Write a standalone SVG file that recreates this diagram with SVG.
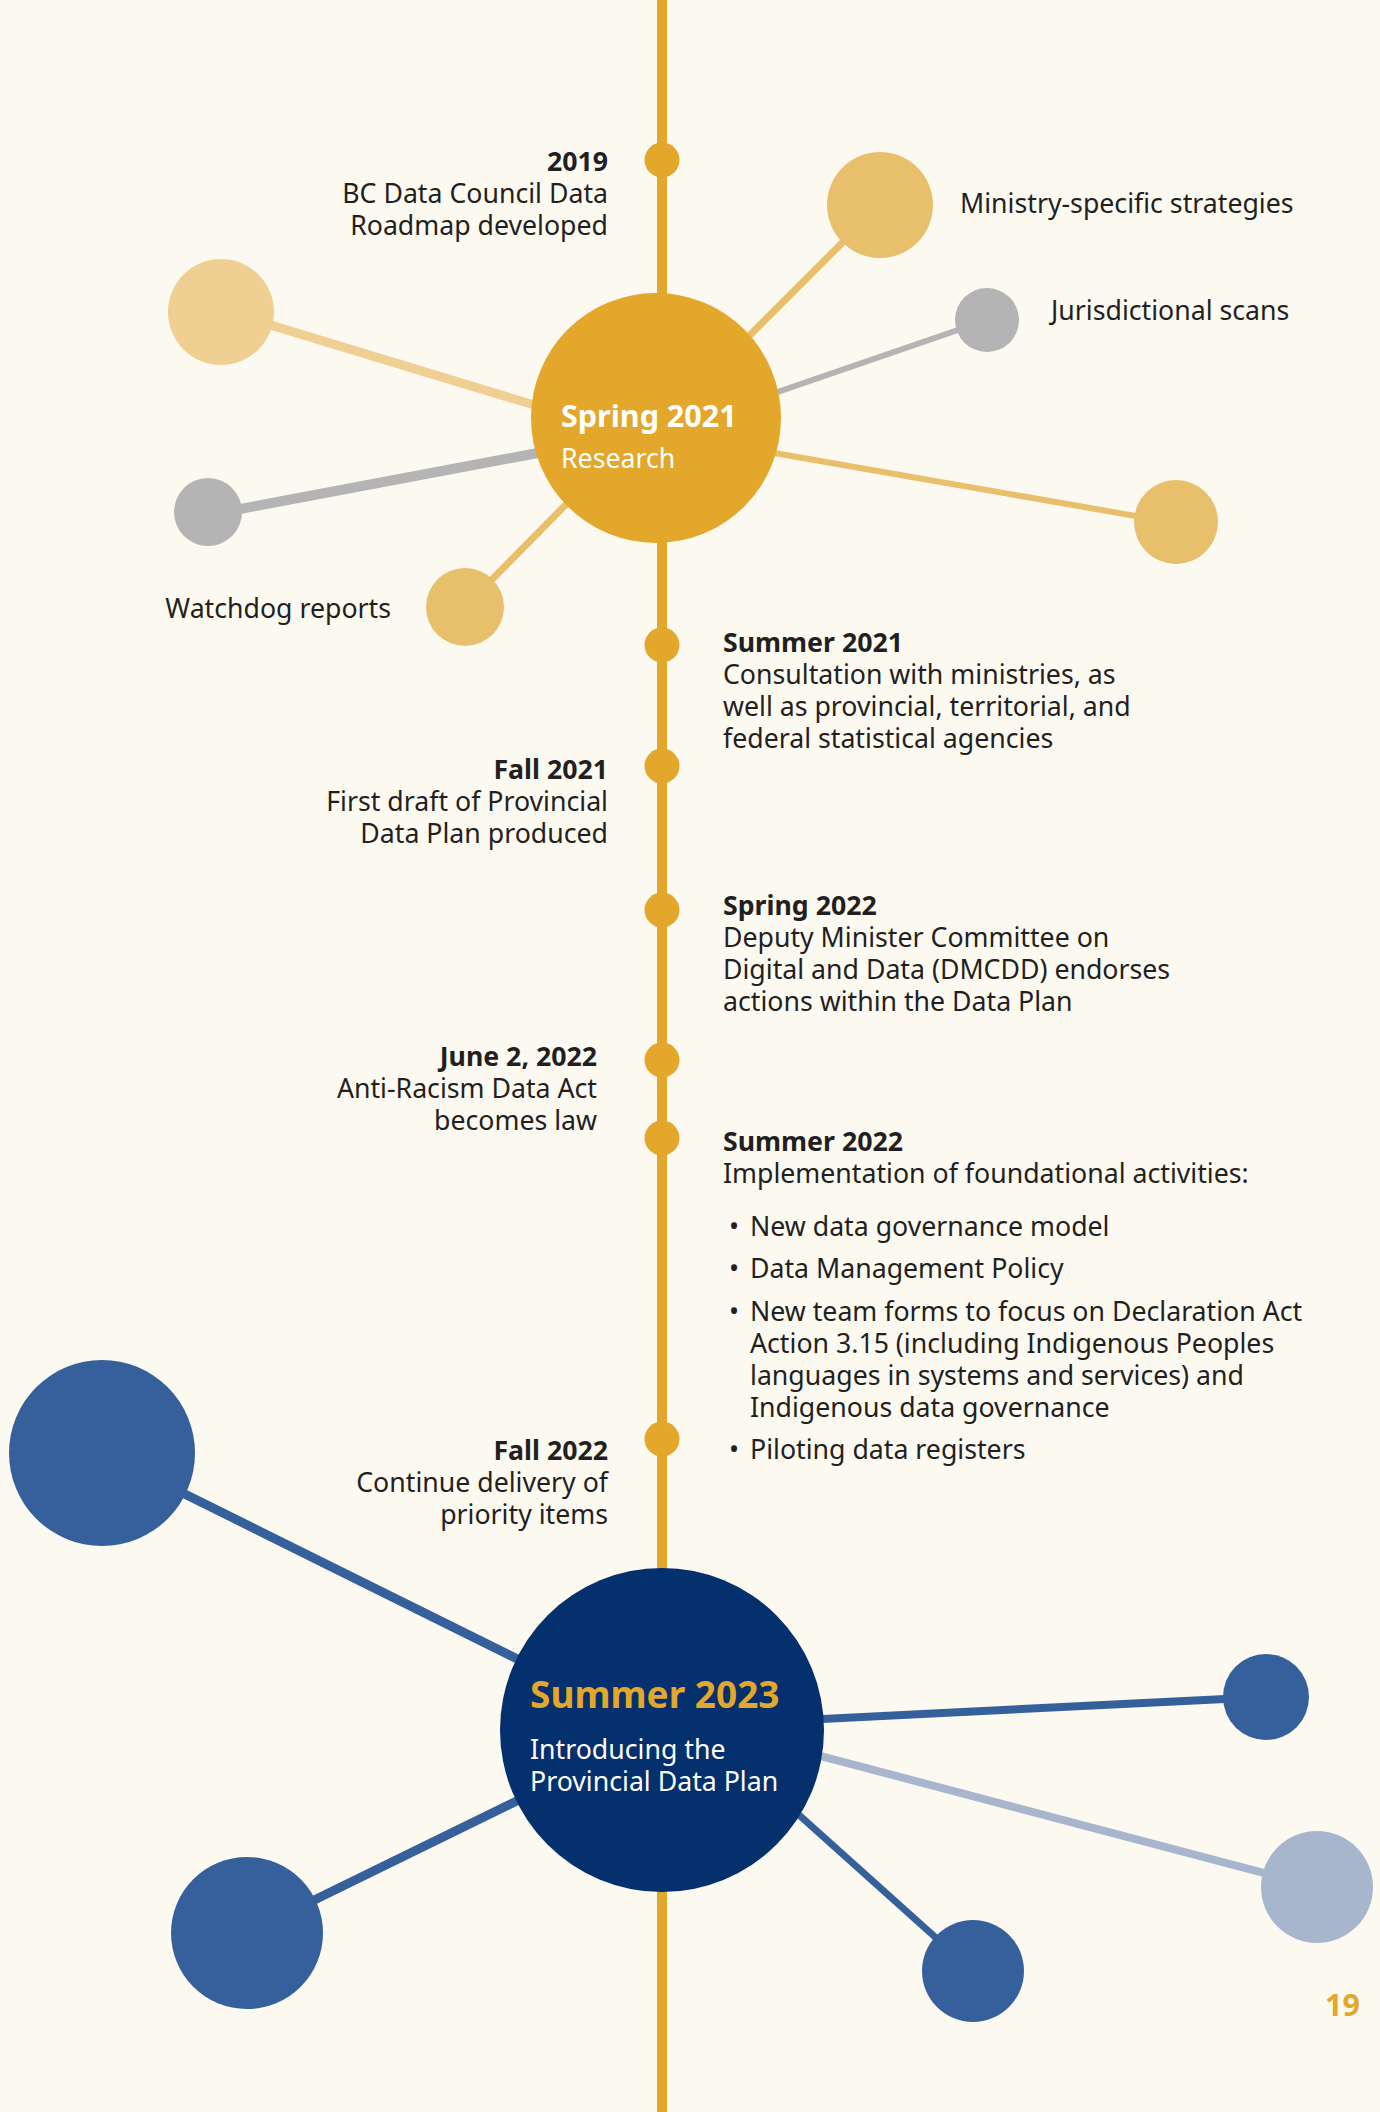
<svg xmlns="http://www.w3.org/2000/svg" width="1380" height="2112" viewBox="0 0 1380 2112">
<style>
text{font-family:"Noto Sans","Open Sans","DejaVu Sans",sans-serif;fill:#231F20;font-size:26.7px}
.b{font-weight:700}
.r{text-anchor:end}
.dot{fill:#E2A72B}
.gold{fill:#E2A72B}
.mid{fill:#E8C06B}
.light{fill:#F0CF92}
.grey{fill:#B4B4B4}
.blue{fill:#36609B}
.pale{fill:#A7B6CC}
.w{fill:#FFFFFF}
.s30{font-size:30.5px}
.s37{font-size:37px}
</style>
<rect width="1380" height="2112" fill="#FCF9F1"/>
<g id="connectors" stroke-linecap="butt" fill="none">
<line x1="662" y1="0" x2="662" y2="2112" stroke="#E2A72B" stroke-width="10"/>
<line x1="221" y1="310" x2="600" y2="425" stroke="#F0CF92" stroke-width="9"/>
<line x1="208" y1="515" x2="580" y2="445" stroke="#B4B4B4" stroke-width="10"/>
<line x1="465" y1="607" x2="590" y2="480" stroke="#E8C06B" stroke-width="7"/>
<line x1="880" y1="205" x2="730" y2="355" stroke="#E8C06B" stroke-width="7"/>
<line x1="987" y1="320" x2="740" y2="405" stroke="#B4B4B4" stroke-width="6"/>
<line x1="1176" y1="523" x2="740" y2="447" stroke="#E8C06B" stroke-width="6"/>
<line x1="102" y1="1453" x2="600" y2="1700" stroke="#36609B" stroke-width="9"/>
<line x1="247" y1="1933" x2="580" y2="1770" stroke="#36609B" stroke-width="9"/>
<line x1="1266" y1="1697" x2="760" y2="1722" stroke="#36609B" stroke-width="8"/>
<line x1="1317" y1="1887" x2="760" y2="1740" stroke="#A7B6CC" stroke-width="8"/>
<line x1="973" y1="1971" x2="760" y2="1780" stroke="#36609B" stroke-width="7"/>
</g>
<g id="sat-ministry"><circle class="mid" cx="880" cy="205" r="53"/><text x="960" y="213">Ministry-specific strategies</text></g>
<g id="sat-jurisdictional"><circle class="grey" cx="987" cy="320" r="32"/><text x="1051" y="320">Jurisdictional scans</text></g>
<g id="sat-left-light"><circle class="light" cx="221" cy="312" r="53"/></g>
<g id="sat-left-grey"><circle class="grey" cx="208" cy="512" r="34"/></g>
<g id="sat-watchdog"><circle class="mid" cx="465" cy="607" r="39"/><text class="r" x="391" y="618">Watchdog reports</text></g>
<g id="sat-right-yellow"><circle class="mid" cx="1176" cy="522" r="42"/></g>
<g id="spring2021"><circle class="gold" cx="656" cy="418" r="125"/><text class="b w s30" x="561" y="427">Spring 2021</text><text class="w" x="561" y="468">Research</text></g>
<g id="e2019"><circle class="dot" cx="662" cy="160" r="17.5"/><text class="r" x="608"><tspan class="b" x="608" y="171">2019</tspan><tspan x="608" y="203">BC Data Council Data</tspan><tspan x="608" y="235">Roadmap developed</tspan></text></g>
<g id="summer2021"><circle class="dot" cx="662" cy="645" r="17.5"/><text x="723"><tspan class="b" x="723" y="652">Summer 2021</tspan><tspan x="723" y="684">Consultation with ministries, as</tspan><tspan x="723" y="716">well as provincial, territorial, and</tspan><tspan x="723" y="748">federal statistical agencies</tspan></text></g>
<g id="fall2021"><circle class="dot" cx="662" cy="766" r="17.5"/><text class="r" x="608"><tspan class="b" x="608" y="779">Fall 2021</tspan><tspan x="608" y="811">First draft of Provincial</tspan><tspan x="608" y="843">Data Plan produced</tspan></text></g>
<g id="spring2022"><circle class="dot" cx="662" cy="910" r="17.5"/><text x="723"><tspan class="b" x="723" y="915">Spring 2022</tspan><tspan x="723" y="947">Deputy Minister Committee on</tspan><tspan x="723" y="979">Digital and Data (DMCDD) endorses</tspan><tspan x="723" y="1011">actions within the Data Plan</tspan></text></g>
<g id="june2022"><circle class="dot" cx="662" cy="1060" r="17.5"/><text class="r" x="597"><tspan class="b" x="597" y="1066">June 2, 2022</tspan><tspan x="597" y="1098">Anti-Racism Data Act</tspan><tspan x="597" y="1130">becomes law</tspan></text></g>
<g id="summer2022"><circle class="dot" cx="662" cy="1138" r="17.5"/><text x="723"><tspan class="b" x="723" y="1151">Summer 2022</tspan><tspan x="723" y="1183">Implementation of foundational activities:</tspan></text>
<text><tspan x="729" y="1236">•</tspan><tspan x="750" y="1236">New data governance model</tspan><tspan x="729" y="1278">•</tspan><tspan x="750" y="1278">Data Management Policy</tspan><tspan x="729" y="1321">•</tspan><tspan x="750" y="1321">New team forms to focus on Declaration Act</tspan><tspan x="750" y="1353">Action 3.15 (including Indigenous Peoples</tspan><tspan x="750" y="1385">languages in systems and services) and</tspan><tspan x="750" y="1417">Indigenous data governance</tspan><tspan x="729" y="1459">•</tspan><tspan x="750" y="1459">Piloting data registers</tspan></text></g>
<g id="fall2022"><circle class="dot" cx="662" cy="1439" r="17.5"/><text class="r" x="608"><tspan class="b" x="608" y="1460">Fall 2022</tspan><tspan x="608" y="1492">Continue delivery of</tspan><tspan x="608" y="1524">priority items</tspan></text></g>
<g id="blue-topleft"><circle class="blue" cx="102" cy="1453" r="93"/></g>
<g id="blue-bottomleft"><circle class="blue" cx="247" cy="1933" r="76"/></g>
<g id="blue-right"><circle class="blue" cx="1266" cy="1697" r="43"/></g>
<g id="pale-right"><circle class="pale" cx="1317" cy="1887" r="56"/></g>
<g id="blue-bottomright"><circle class="blue" cx="973" cy="1971" r="51"/></g>
<g id="summer2023"><circle fill="#05306E" cx="662" cy="1730" r="162"/><text class="b gold s37" x="530" y="1708">Summer 2023</text><text class="w" x="530" y="1759">Introducing the</text><text class="w" x="530" y="1791">Provincial Data Plan</text></g>
<g id="page"><text class="b gold r s30" x="1360" y="2016">19</text></g>
</svg>
